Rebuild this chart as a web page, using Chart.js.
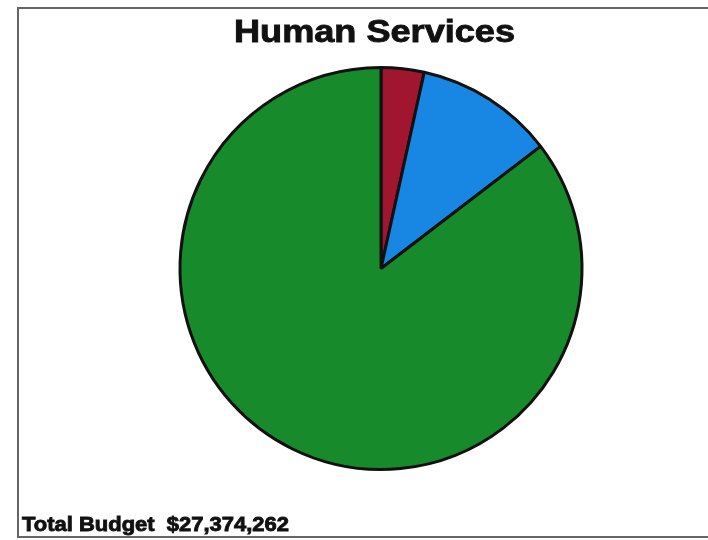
<!DOCTYPE html>
<html>
<head>
<meta charset="utf-8">
<script src="https://cdn.jsdelivr.net/npm/chart.js@4/dist/chart.umd.min.js"></script>
<style>
  html, body { margin: 0; padding: 0; background: #fff; }
  #wrap { width: 708px; height: 540px; }
</style>
</head>
<body>
<div id="wrap"><canvas id="budgetPie"></canvas></div>
<script>
const chartTitle = "Human Services";
const footerText = "Total Budget  $27,374,262";
const categories = ["Category A", "Category B", "Category C"];
const amounts = [945000, 3052000, 23377262];
const sliceColors = ["#a0162f", "#1787e3", "#178a2c"];

// heavy, slightly widened text, like the original bold face
function heavyText(ctx, text, x, y, size, targetWidth) {
    ctx.font = "bold " + size + "px 'Liberation Sans', Arial, sans-serif";
    const w = ctx.measureText(text).width;
    const sx = targetWidth / w;
    ctx.save();
    ctx.translate(x, y);
    ctx.scale(sx, 1);
    ctx.fillText(text, 0, 0);
    ctx.lineWidth = 0.9;
    ctx.strokeText(text, 0, 0);
    ctx.restore();
}

// draws the frame, the heading and the total line around the pie
const framePlugin = {
    id: "frame",
    beforeDraw(chart) {
        const ctx = chart.ctx;
        ctx.save();
        ctx.fillStyle = "#ffffff";
        ctx.fillRect(0, 0, chart.width, chart.height);
        ctx.strokeStyle = "#666666";
        ctx.lineWidth = 2;
        ctx.beginPath();
        ctx.moveTo(chart.width + 2, 8);
        ctx.lineTo(18, 8);
        ctx.lineTo(18, 537);
        ctx.lineTo(chart.width + 2, 537);
        ctx.stroke();
        ctx.restore();
    },
    afterDraw(chart) {
        const ctx = chart.ctx;
        ctx.save();
        ctx.fillStyle = "#111111";
        ctx.strokeStyle = "#111111";
        ctx.textBaseline = "alphabetic";
        ctx.textAlign = "left";
        heavyText(ctx, chartTitle, 234, 42, 32, 281);
        heavyText(ctx, footerText, 22, 531, 21, 267);
        ctx.restore();
    }
};

new Chart("budgetPie", {
    type: "pie",
    data: {
        labels: categories,
        datasets: [{
            data: amounts,
            backgroundColor: sliceColors,
            borderColor: "#111111",
            borderWidth: 3
        }]
    },
    options: {
        responsive: true,
        maintainAspectRatio: false,
        animation: false,
        layout: {
            padding: {top: 66, bottom: 69, left: 178, right: 124}
        },
        plugins: {
            legend: {display: false},
            tooltip: {enabled: false}
        }
    },
    plugins: [framePlugin]
});
</script>
</body>
</html>
